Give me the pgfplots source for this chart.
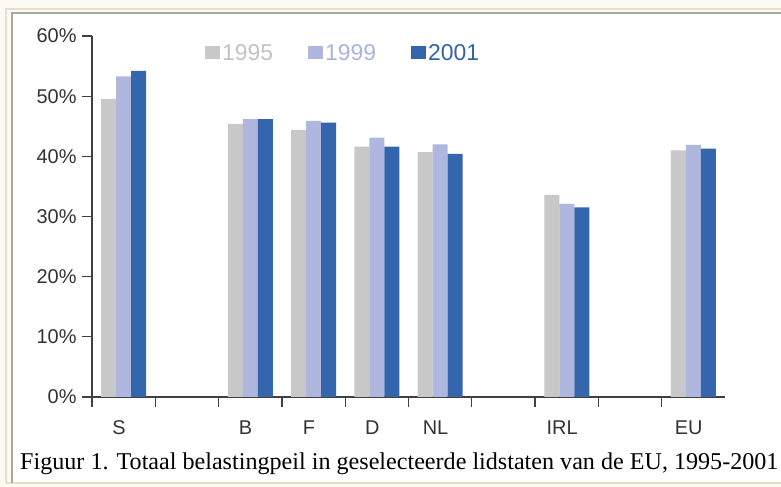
\documentclass[border=0pt]{standalone}
\usepackage{pgfplots}
\pgfplotsset{compat=1.18}
\usepackage{fontspec}
\setmainfont{Liberation Sans}
\newfontfamily\capfont{Liberation Serif}
\definecolor{c95}{HTML}{C8C8C8}
\definecolor{c99}{HTML}{AFB7DF}
\definecolor{c01}{HTML}{3366AD}
\definecolor{t95}{HTML}{C2C2C2}
\definecolor{t99}{HTML}{A9B4DE}
\definecolor{t01}{HTML}{3463AA}
\definecolor{axc}{HTML}{404040}
\definecolor{txt}{HTML}{333333}
\definecolor{cream}{HTML}{FCFAF2}
\definecolor{beige}{HTML}{E6DEC6}
\definecolor{frm}{HTML}{A8A8A0}
\begin{document}
\begin{tikzpicture}[x=1bp,y=1bp]
\useasboundingbox (0,0) rectangle (781,487);
\fill[cream] (0,0) rectangle (781,487);
\fill[white] (12,4) rectangle (781,474);
\draw[beige,line width=1.2bp] (6,4) -- (6,478) -- (781,478);
\draw[beige,line width=1.2bp] (6,4) -- (781,4);
\draw[frm,line width=1.6bp] (12,4) -- (12,474) -- (781,474);
\begin{axis}[
  at={(92bp,90bp)}, anchor=south west,
  scale only axis, width=633bp, height=361bp,
  xmin=0, xmax=10, ymin=0, ymax=60,
  axis x line=bottom, axis y line=left,
  axis line style={-, draw=axc, line width=1.8bp},
  xtick={0,...,9},
  xticklabels={S,,B,F,D,NL,,IRL,,EU},
  ytick={0,10,...,60},
  yticklabels={0\%,10\%,20\%,30\%,40\%,50\%,60\%},
  tick align=outside, major tick length=10bp,
  tick style={draw=axc, line width=1.3bp},
  ticklabel style={font=\fontsize{20}{22}\selectfont, text=txt},
  xticklabel style={xshift=27bp, yshift=-10bp},
  yticklabel style={xshift=-2bp},
  bar width=0.237,
  legend columns=3,
  legend style={draw=none, fill=none, at={(rel axis cs:0.1785,0.953)}, anchor=west,
    font=\fontsize{23}{25}\selectfont, inner sep=0pt,
    /tikz/every even column/.append style={column sep=33bp}},
  legend image code/.code={\fill[#1] (0bp,-6.5bp) rectangle (15bp,6.5bp);},
]
\addplot[ybar, bar shift=-0.237, fill=c95, draw=none] coordinates {
 (0.5,49.5) (2.5,45.4) (3.5,44.4) (4.5,41.6) (5.5,40.7) (7.5,33.6) (9.5,41.0)};
\addplot[ybar, bar shift=0, fill=c99, draw=none] coordinates {
 (0.5,53.3) (2.5,46.2) (3.5,45.9) (4.5,43.1) (5.5,42.0) (7.5,32.1) (9.5,41.9)};
\addplot[ybar, bar shift=0.237, fill=c01, draw=none] coordinates {
 (0.5,54.2) (2.5,46.2) (3.5,45.6) (4.5,41.6) (5.5,40.4) (7.5,31.5) (9.5,41.3)};
\legend{\textcolor{t95}{1995},\textcolor{t99}{1999},\textcolor{t01}{2001}}
\end{axis}
\node[anchor=base west, inner sep=0pt, font=\capfont\fontsize{24.2}{28}\selectfont] at (20,17)
 {Figuur 1. Totaal belastingpeil in geselecteerde lidstaten van de EU, 1995-2001};
\end{tikzpicture}
\end{document}
